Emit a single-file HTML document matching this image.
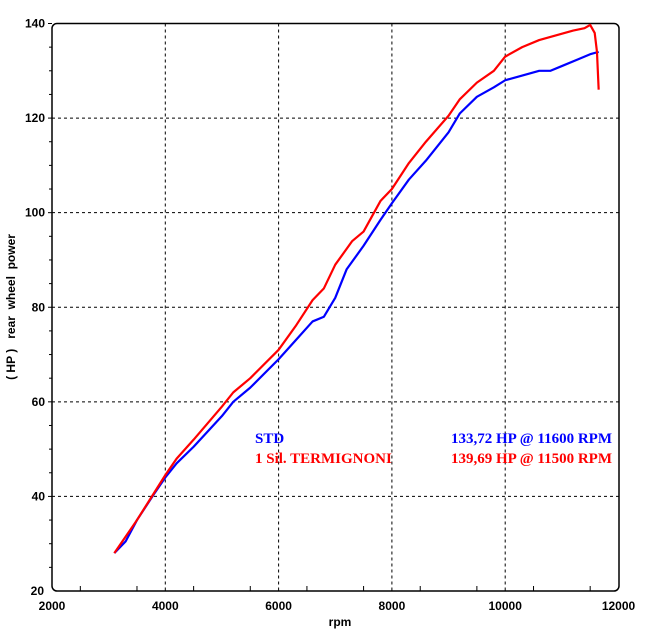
<!DOCTYPE html>
<html><head><meta charset="utf-8"><style>
body{margin:0;background:#fff}
svg{display:block}
text{font-family:"Liberation Sans",sans-serif;font-weight:bold;font-size:12px;fill:#000}
</style></head><body>
<svg id="chart" width="652" height="636" xmlns="http://www.w3.org/2000/svg">
<g id="grid"></g>
<rect x="52" y="23.5" width="567" height="567.5" rx="5" fill="none" stroke="#000" stroke-width="1.5"/>
<g id="axes"></g>
<g id="series"></g>
<text x="340" y="626" text-anchor="middle" font-size="12">rpm</text>
<text transform="translate(15,307) rotate(-90)" text-anchor="middle" font-size="11.5" xml:space="preserve">( HP )   rear  wheel  power</text>
<g>
<text x="255" y="443" style="font-family:'Liberation Serif',serif;font-weight:bold;font-size:15px;fill:#0000ff">STD</text>
<text x="612" y="443" text-anchor="end" style="font-family:'Liberation Serif',serif;font-weight:bold;font-size:15px;fill:#0000ff">133,72 HP @ 11600 RPM</text>
<text x="255" y="463" style="font-family:'Liberation Serif',serif;font-weight:bold;font-size:15px;fill:#ff0000">1 Sil. TERMIGNONI</text>
<text x="612" y="463" text-anchor="end" style="font-family:'Liberation Serif',serif;font-weight:bold;font-size:15px;fill:#ff0000">139,69 HP @ 11500 RPM</text>
</g>
</svg>
<script>
const xTicks=[2000,4000,6000,8000,10000,12000];
const yTicks=[20,40,60,80,100,120,140];
const stdRpm=[3100,3300,3500,3800,4000,4200,4500,5000,5200,5500,6000,6300,6600,6800,7000,7200,7500,7800,8000,8300,8600,9000,9200,9500,9800,10000,10300,10600,10800,11000,11300,11500,11650];
const stdHp=[28,30.5,35,40.5,44,47,50.5,57,60,63,69,73,77,78,82,88,93,98.5,102,107,111,117,121,124.5,126.5,128,129,130,130,131,132.5,133.5,134];
const termiRpm=[3100,3500,4000,4200,4500,5000,5200,5500,6000,6300,6600,6800,7000,7300,7500,7800,8000,8300,8600,9000,9200,9500,9800,10000,10300,10600,10900,11200,11400,11500,11580,11620,11650];
const termiHp=[28,35,44.5,48,52,59,62,65,71,76,81.5,84,89,94,96,102.5,105,110.5,115,120.5,124,127.5,130,133,135,136.5,137.5,138.5,139,139.7,138,134,126];
const NS="http://www.w3.org/2000/svg";
const X=v=>52+(v-2000)*0.05665;
const Y=v=>591-(v-20)*(567.5/120);
function mk(t,a,p){const e=document.createElementNS(NS,t);for(const k in a)e.setAttribute(k,a[k]);p.appendChild(e);return e;}
const grid=document.getElementById('grid'),axes=document.getElementById('axes'),series=document.getElementById('series');
xTicks.forEach(v=>{
 if(v>2000&&v<12000){const l=mk('line',{x1:X(v),x2:X(v),y1:23.5,y2:591,stroke:'#000','stroke-dasharray':'3,3'},grid);
 
 }
 const t=mk('text',{x:X(v),y:610,'text-anchor':'middle'},axes);t.textContent=v;
 
 
});
for(let v=2500;v<12000;v+=1000){const m=mk('line',{x1:X(v),x2:X(v),y1:591,y2:586,stroke:'#000'},axes);
 
 }
yTicks.forEach(v=>{
 if(v>20&&v<140){const l=mk('line',{x1:52,x2:619,y1:Y(v),y2:Y(v),stroke:'#000','stroke-dasharray':'3,3'},grid);
 
 }
 const t=mk('text',{x:v==20?44:45,y:Y(v)+4,'text-anchor':'end'},axes);t.textContent=v;
 
 
 if(v>20){const m=mk('line',{x1:48,x2:52,y1:Y(v),y2:Y(v),stroke:'#000'},axes);
 
 }
});
for(let v=25;v<140;v+=5){if(v%20){const m=mk('line',{x1:49,x2:52,y1:Y(v),y2:Y(v),stroke:'#000'},axes);
 
 }}
function line(xs,ys,c,name){const p=mk('polyline',{points:xs.map((x,i)=>X(x)+','+Y(ys[i])).join(' '),fill:'none',stroke:c,'stroke-width':2.2,'stroke-linejoin':'round'},series);
 
 }
line(stdRpm,stdHp,'#0000ff','std-power-line');
line(termiRpm,termiHp,'#ff0000','termignoni-power-line');
</script>
</body></html>
